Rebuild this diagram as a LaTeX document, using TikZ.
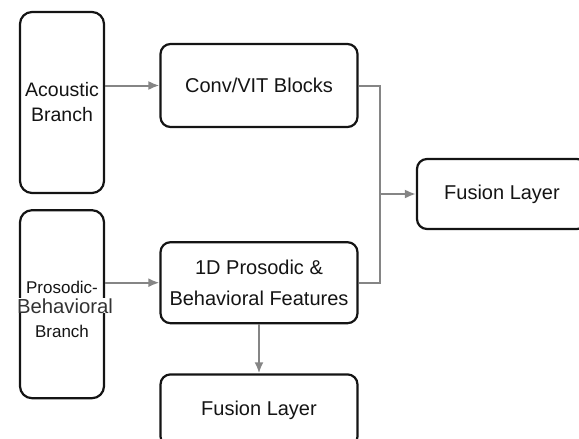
\documentclass[tikz,border=0pt]{standalone}
\usepackage{fontspec}
\setmainfont{Liberation Sans}
\usetikzlibrary{positioning,arrows.meta}
\definecolor{ink}{HTML}{141414}
\definecolor{lnk}{HTML}{858585}
\tikzset{
  brn/.style ={rectangle, rounded corners=12pt, draw=ink, line width=2.2pt,
               minimum width=84pt, inner sep=0pt, text=ink, align=center},
  blk/.style ={rectangle, rounded corners=10pt, draw=ink, line width=2.2pt,
               minimum width=197pt, inner sep=0pt, text=ink, align=center,
               font=\fontsize{20}{31}\selectfont},
  fl/.style  ={-{Latex[length=11pt,width=9pt]}, line width=2pt, draw=lnk},
  ln/.style  ={line width=2pt, draw=lnk},
  lbl/.style ={inner sep=0pt, text=ink, anchor=base}
}

\begin{document}
\begin{tikzpicture}[x=1pt, y=-1pt, node distance=15pt]
  \clip (0,0) rectangle (579,439);
  % branches
  \node[brn,minimum height=181pt,font=\fontsize{19.5}{25}\selectfont] (acou) at (62,102.5)
    {Acoustic\\Branch};
  \node[brn,minimum height=188pt,below=15pt of acou] (prob) {};
  \node[lbl,font=\fontsize{17}{20}\selectfont] (pro1) at (62,293) {Prosodic-};
  \node[lbl,fill=white,text=black!80,font=\fontsize{20.3}{24}\selectfont] (pro2) at (65,313) {Behavioral};
  \node[lbl,font=\fontsize{17}{20}\selectfont] (pro3) at (62,337) {Branch};
  % blocks
  \node[blk,minimum height=83pt] (conv) at (259,85.5) {Conv/VIT Blocks};
  \node[blk,minimum height=81pt,below=113pt of conv] (feat) {1D Prosodic \&\\Behavioral Features};
  \node[blk,minimum height=72pt,below=49pt of feat] (fus2) {Fusion Layer};
  \node[blk,minimum width=170pt,minimum height=70pt] (fus1) at (502,194) {Fusion Layer};
  \coordinate (jn) at (380,194);
  % links
  \draw[fl] (acou.east |- conv.west) -- (conv.west);
  \draw[fl] (prob.east |- feat.west) -- (feat.west);
  \draw[fl] (feat) -- (fus2);
  \draw[ln] (conv.east) -| (jn) |- (feat.east);
  \draw[fl] (jn) -- (fus1);
\end{tikzpicture}
\end{document}
